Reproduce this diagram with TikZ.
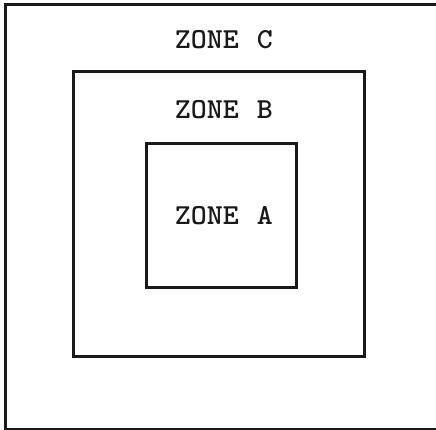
\documentclass[tikz,border=0pt]{standalone}
\newcommand{\zgap}{\hspace{2pt}}
\begin{document}
\begin{tikzpicture}[x=1pt,y=-1pt,
  zonebox/.style={draw=black!90, line width=3pt, fill=none, inner sep=0pt},
  zonelabel/.style={font=\fontsize{29}{31}\selectfont\ttfamily\bfseries, text=black!90, inner sep=0pt, xscale=1.05}]
\useasboundingbox (0,0) rectangle (436,430);
\clip (0,0) rectangle (436,430);
\coordinate (c1) at (5,5);
\coordinate (c2) at (437,429);
\coordinate (b1) at (73,72);
\coordinate (b2) at (364,356);
\coordinate (a1) at (146,144);
\coordinate (a2) at (296,287);
\draw[zonebox] (c1) rectangle (c2);
\draw[zonebox] (b1) rectangle (b2);
\draw[zonebox] (a1) rectangle (a2);
\node[zonelabel] (lc) at (224,40) {ZONE\zgap{} C};
\node[zonelabel] (lb) at (224,110) {ZONE\zgap{} B};
\node[zonelabel] (la) at (224,216) {ZONE\zgap{} A};
\end{tikzpicture}
\end{document}
